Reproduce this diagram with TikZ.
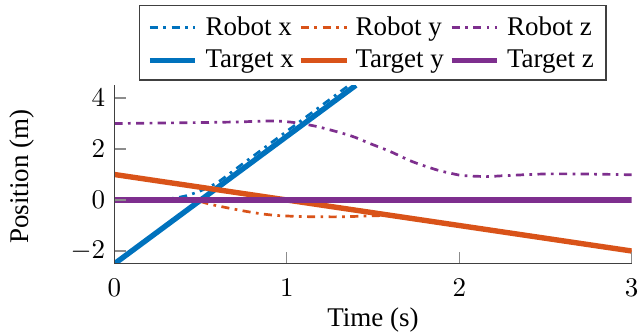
\documentclass[tikz,border=0pt]{standalone}
\usepackage[no-math]{fontspec}
\setmainfont{Liberation Serif}
\definecolor{mblue}{HTML}{0072BD}
\definecolor{morange}{HTML}{D95319}
\definecolor{mpurple}{HTML}{7E2F8E}

\begin{document}
\begin{tikzpicture}[
    x=0.37037pt, y=0.37037pt,
    robot/.style={line width=1pt, dash dot},
    target/.style={line width=2pt},
    axisline/.style={line width=0.4pt, black!75},
    tickline/.style={line width=0.4pt, black!45},
    legtext/.style={anchor=base west, inner sep=0pt},
    ticklab/.style={inner sep=0pt}
]
\useasboundingbox (0,0) rectangle (639,332);

% data area
\begin{scope}[shift={(42.407pt,48.889pt)}, x=63.852pt, y=9.444pt]
\coordinate (o) at (0,-2.5);
\coordinate (xe) at (3,-2.5);
\coordinate (ye) at (0,4.5);

\begin{scope}
\clip (o) rectangle (3,4.5);
\draw[robot, mblue] plot[smooth] coordinates {(0,0) (0.25,0) (0.3,0.03) (0.4,0.14)
    (0.46,0.26) (0.52,0.42) (0.6,0.7) (0.7,1.2) (0.8,1.7) (0.9,2.2) (1.0,2.7)
    (1.2,3.7) (1.4,4.7)};
\draw[robot, morange] plot[smooth] coordinates {(0,0) (0.45,0) (0.5,-0.06) (0.55,-0.16)
    (0.65,-0.3) (0.75,-0.43) (0.85,-0.54) (0.95,-0.61) (1.1,-0.65) (1.3,-0.66)
    (1.45,-0.63) (1.6,-0.6)} -- (3,-2);
\draw[robot, mpurple] plot[smooth] coordinates {(0,3) (0.4,3.03) (0.7,3.06) (0.9,3.1)
    (1.0,3.07) (1.1,2.98) (1.2,2.84) (1.37,2.52) (1.48,2.22) (1.6,1.9) (1.73,1.5)
    (1.87,1.18) (1.95,1.05) (2.02,0.96) (2.16,0.92) (2.25,0.95) (2.49,1.02)
    (2.72,1.02) (3,0.99)};
\draw[target, mblue] (0,-2.5) -- (1.4,4.5);
\draw[target, morange] (0,1) -- (3,-2);
\draw[target, mpurple] (0,0) -- (3,0);
\end{scope}

% ticks
\foreach \t in {0,1,2,3}{
    \draw[tickline] (\t,-2.5) -- ++(0,4.25pt);
    \node[ticklab, anchor=base, yshift=-12.1pt] (xt\t) at (\t,-2.5) {$\t$};
}
\foreach \v/\n in {-2/a,0/b,2/c,4/d}{
    \draw[tickline] (0,\v) -- ++(4.25pt,0);
    \node[ticklab, anchor=east, xshift=-3.3pt] (yt\n) at (0,\v) {$\v$};
}
\draw[axisline] (ye) -- (o) -- (xe);
\end{scope}

% axis labels
\node[anchor=base, inner sep=0pt] (xlabel) at (373,5.5) {Time (s)};
\node[anchor=base, inner sep=0pt, rotate=90] (ylabel) at (28,155.5) {Position (m)};

% legend
\draw[axisline, fill=white] (139.5,252) rectangle (606,326.5);
\draw[robot, mblue] (150,304.3) -- (195,304.3);
\node[legtext] (lrx) at (205,296.5) {Robot x};
\draw[robot, morange] (301,304.3) -- (347,304.3);
\node[legtext] (lry) at (355,296.5) {Robot y};
\draw[robot, mpurple] (451.7,304.3) -- (497,304.3);
\node[legtext] (lrz) at (506.5,296.5) {Robot z};
\draw[target, mblue] (150,271.3) -- (195,271.3);
\node[legtext] (ltx) at (205,264.5) {Target x};
\draw[target, morange] (301,271.3) -- (347,271.3);
\node[legtext] (lty) at (355,264.5) {Target y};
\draw[target, mpurple] (451.7,271.3) -- (497,271.3);
\node[legtext] (ltz) at (506.5,264.5) {Target z};

\end{tikzpicture}
\end{document}
